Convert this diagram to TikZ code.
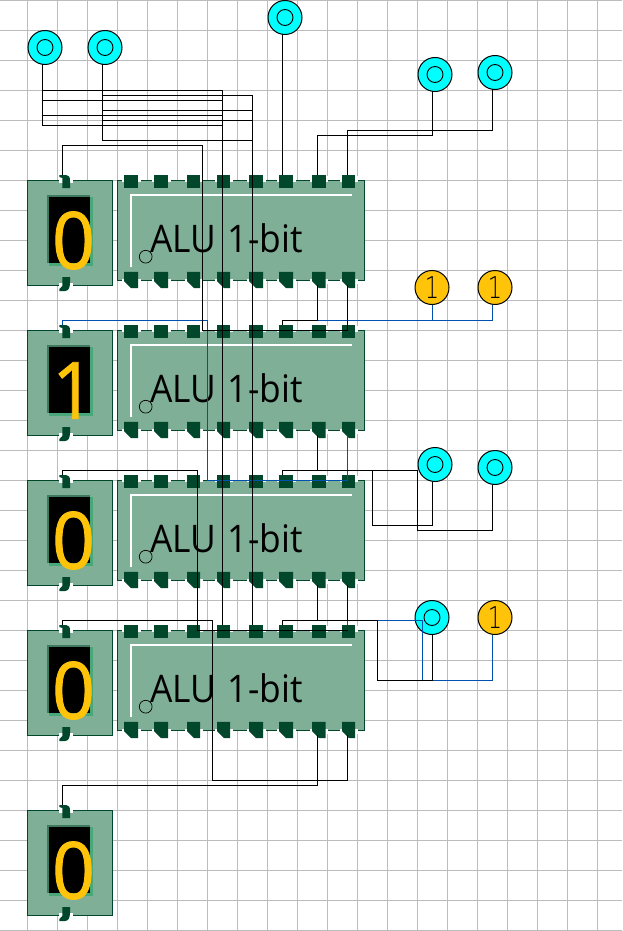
\documentclass[tikz,border=0pt]{standalone}
\usepackage{fontspec}
\setmainfont{Open Sans}
\newfontfamily\thinf[FakeStretch=0.75]{DejaVu Sans ExtraLight}
\newfontfamily\alufont[FakeStretch=0.93]{Open Sans}
\newfontfamily\digfont[FakeBold=1.1,FakeStretch=0.95]{Open Sans}
\definecolor{gridc}{RGB}{188,188,188}
\definecolor{body}{RGB}{127,175,150}
\definecolor{pinc}{RGB}{0,71,43}
\definecolor{shadeD}{RGB}{62,122,96}
\definecolor{shadeL}{RGB}{72,168,122}
\definecolor{ambr}{RGB}{255,196,10}
\definecolor{cyn}{RGB}{0,255,255}
\definecolor{bluew}{RGB}{0,80,176}
\tikzset{
  wire/.style={draw=black,line width=1.2pt,line join=miter},
  bwire/.style={draw=bluew,line width=1.2pt,line join=miter},
  inbox/.style={circle,draw=black,line width=1pt,fill=cyn,minimum size=34pt,inner sep=0pt},
  incore/.style={circle,draw=black,line width=0.9pt,fill=cyn,minimum size=16pt,inner sep=0pt},
  lamp/.style={circle,draw=black,line width=1pt,fill=ambr,minimum size=34pt,inner sep=0pt,font=\thinf\fontsize{30}{30}\selectfont},
  bodybox/.style={draw=pinc,line width=1pt,fill=body},
  alutext/.style={inner sep=0pt,font=\alufont\fontsize{38}{38}\selectfont,text=black},
  digit/.style={inner sep=0pt,font=\digfont\fontsize{79}{79}\selectfont,text=ambr},
}
\begin{document}
\begin{tikzpicture}[x=1pt,y=-1pt]
\useasboundingbox (0,0) rectangle (622,931);
\fill[white] (0,0) rectangle (622,931);
% grid
\foreach \k in {0,...,19} {\draw[gridc,line width=1.1pt] ({27.5+30*\k},0) -- ({27.5+30*\k},931);}
\foreach \k in {0,...,31} {\draw[gridc,line width=1.1pt] (0,{0.5+30*\k}) -- (622,{0.5+30*\k});}
% chips
\foreach \r/\lab in {0/a,1/b,2/c,3/d} {
  \pgfmathsetmacro{\yo}{150*\r}
  \begin{scope}[yshift={-\yo pt}]
    \draw[bodybox] (117.5,180.5) rectangle (364.5,280.5);
    \draw[white,line width=2pt] (131,267) -- (131,194.5) -- (352,194.5);
    \foreach \xa/\xb in {124/138,154/168,187/200,217/230,249/263,279/293,312/325.5,342/355} {
      \fill[white] ({\xa-2},176) rectangle ({\xb+2.5},182);
      \fill[white] ({\xa-2},279) rectangle ({\xb+2.5},284);
      \fill[pinc] (\xa,174.8) rectangle (\xb,188.2);
      \fill[pinc] (\xa,271.8) -- (\xb,271.8) -- (\xb,288.2) -- ({\xa+7},288.2) -- (\xa,281) -- cycle;
    }
    \draw[black,line width=0.7pt] (145.7,256.7) circle (6.4);
    \node[alutext,anchor=base west] (alu\lab) at (150,252) {ALU\hspace{2.5pt} 1-bit};
  \end{scope}
  \coordinate (\lab T3) at (197.5,175+\yo);
  \coordinate (\lab T4) at (222.5,175+\yo);
  \coordinate (\lab T5) at (252.5,175+\yo);
  \coordinate (\lab T6) at (282.5,175+\yo);
  \coordinate (\lab T7) at (317.5,175+\yo);
  \coordinate (\lab T8) at (347.5,175+\yo);
  \coordinate (\lab B7) at (317.5,285+\yo);
  \coordinate (\lab B8) at (347.5,285+\yo);
}
% displays
\foreach \yo/\lab/\dg in {180/a/0,330/b/1,480/c/0,630/d/0,810/e/0} {
  \begin{scope}[yshift={-\yo pt}]
    \draw[bodybox] (27.5,0.5) rectangle (112.5,105);
    \fill[white] (59,-4) rectangle (73,3);
    \fill[white] (59,103) rectangle (73,110);
    \fill[shadeD] (47,15) rectangle (90,83);
    \fill[shadeL] (49,17) rectangle (93,86);
    \fill[black] (49,17) rectangle (90,83);
    \fill[pinc] (59.3,-5) -- (66,-5) .. controls (69,-5) and (70,-3) .. (70,1) -- (70,8) -- (62.3,8) -- (62.3,-2) -- (59.3,-3) -- cycle;
    \fill[pinc] (62.3,97) -- (70,97) -- (70,103) .. controls (70,108) and (68,111) .. (65,111) -- (59.3,111) -- (59.3,109) -- (62.3,106) -- cycle;
    \node[digit] (dig\lab) at (73.5,60.5) {\dg};
  \end{scope}
  \coordinate (\lab D) at (62.5,\yo-5);
  \coordinate (\lab Dout) at (62.5,\yo+111);
}
% inputs
\node[inbox] (i1) at (45,47.5) {};
\node[incore] (i1c) at (i1) {};
\node[inbox] (i2) at (105,47.5) {};
\node[incore] (i2c) at (i2) {};
\node[inbox] (i3) at (285,17.5) {};
\node[incore] (i3c) at (i3) {};
\node[inbox] (i4) at (435,74.5) {};
\node[incore] (i4c) at (i4) {};
\node[inbox] (i5) at (495,72.5) {};
\node[incore] (i5c) at (i5) {};
\node[lamp] (l1) at (432,287.5) {1};
\node[lamp] (l2) at (495,287.5) {1};
\node[inbox] (i6) at (435,464.5) {};
\node[incore] (i6c) at (i6) {};
\node[inbox] (i7) at (495,467.5) {};
\node[incore] (i7c) at (i7) {};
\node[inbox] (i8) at (432,617.5) {};
\node[incore] (i8c) at (i8) {};
\node[lamp] (l3) at (495,617.5) {1};
% free wire ends under the round nodes
\coordinate (i1w) at (42.5,64.5);
\coordinate (i2w) at (102.5,64.5);
\coordinate (i3w) at (282.5,34.5);
\coordinate (i4w) at (432.5,91.5);
\coordinate (i5w) at (492.5,89.5);
\coordinate (l1w) at (432.5,304.5);
\coordinate (l2w) at (492.5,304.5);
\coordinate (i6w) at (432.5,481.5);
\coordinate (i7w) at (492.5,484.5);
\coordinate (i8w) at (432.5,634.5);
\coordinate (l3w) at (492.5,634.5);
% blue wires
\draw[bwire] (bD) -- (62.5,320.5) -- (207.5,320.5) -- (207.5,480.5) -- (347.5,480.5) -- (bB8);
\draw[bwire] (317.5,320.5) -- (492.5,320.5) -- (l2w);
\draw[bwire] (l1w) -- (432.5,320.5);
\draw[bwire] (dT8) -- (347.5,620.5) -- (422.5,620.5) -- (422.5,680.5) -- (492.5,680.5) -- (l3w);
% black wires
\draw[wire] (i1w) -- (42.5,125.5) -- (222.5,125.5);
\draw[wire] (42.5,90.5) -- (222.5,90.5);
\draw[wire] (42.5,100.5) -- (222.5,100.5);
\draw[wire] (42.5,115.5) -- (222.5,115.5);
\draw[wire] (222.5,90.5) -- (dT4);
\draw[wire] (i2w) -- (102.5,140.5) -- (252.5,140.5);
\draw[wire] (102.5,95.5) -- (252.5,95.5);
\draw[wire] (102.5,110.5) -- (252.5,110.5);
\draw[wire] (102.5,120.5) -- (252.5,120.5);
\draw[wire] (252.5,95.5) -- (dT5);
\draw[wire] (i3w) -- (aT6);
\draw[wire] (i4w) -- (432.5,135.5) -- (317.5,135.5) -- (aT7);
\draw[wire] (i5w) -- (492.5,130.5) -- (347.5,130.5) -- (aT8);
\draw[wire] (aD) -- (62.5,145.5) -- (202.5,145.5) -- (202.5,330.5) -- (347.5,330.5) -- (aB8);
\draw[wire] (bT6) -- (282.5,320.5) -- (317.5,320.5) -- (aB7);
\draw[wire] (cD) -- (62.5,470.5) -- (197.5,470.5) -- (197.5,630.5) -- (347.5,630.5);
\draw[wire] (cT6) -- (282.5,470.5) -- (417.5,470.5) -- (417.5,530.5) -- (492.5,530.5) -- (i7w);
\draw[wire] (bB7) -- (317.5,470.5);
\draw[wire] (372.5,470.5) -- (372.5,525.5) -- (432.5,525.5) -- (i6w);
\draw[wire] (dT6) -- (282.5,620.5) -- (377.5,620.5) -- (377.5,680.5) -- (432.5,680.5) -- (i8w);
\draw[wire] (cB7) -- (317.5,620.5);
\draw[wire] (cB8) -- (347.5,620.5);
\draw[wire] (dD) -- (62.5,620.5) -- (212.5,620.5) -- (212.5,780.5) -- (347.5,780.5) -- (dB8);
\draw[wire] (eD) -- (62.5,785.5) -- (317.5,785.5) -- (dB7);
\end{tikzpicture}
\end{document}
